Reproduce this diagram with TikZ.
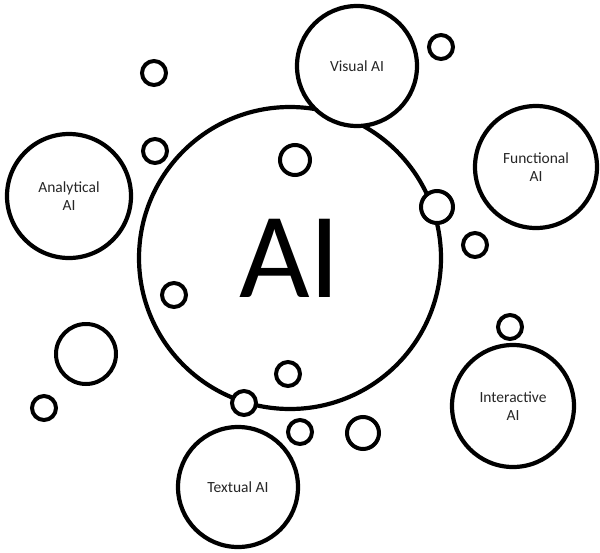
\documentclass[tikz,border=0pt]{standalone}
\usepackage{fontspec}
\setmainfont{Carlito}
\begin{document}
\begin{tikzpicture}[x=1pt,y=-1pt,
  bubble/.style={circle,draw=black,fill=white,line width=4.2pt,inner sep=0pt,
    minimum size=#1,align=center,font=\fontsize{15.5}{17.5}\selectfont,text=black!85},
  dot/.style={circle,draw=black,fill=white,line width=4pt,inner sep=0pt,minimum size=#1}]
\useasboundingbox (0,0) rectangle (600,552);
% central circle
\node[bubble=302pt,font=\fontsize{122}{122}\selectfont,text=black] (ai) at (290,258) {AI};
% satellite bubbles
\node[bubble=120pt] (visual) at (357,66) {Visual AI};
\node[bubble=122pt] (functional) at (536,167) {Functional\\AI};
\node[bubble=124pt] (analytical) at (69,196) {Analytical\\AI};
\node[bubble=122pt] (interactive) at (513,406) {Interactive\\AI};
\node[bubble=120pt] (textual) at (238,487) {Textual AI};
% small floating circles
\node[dot=24pt] (d1) at (154,73) {};
\node[dot=24pt] (d2) at (441,47) {};
\node[dot=24pt] (d3) at (155,151) {};
\node[dot=30pt] (d4) at (295,160) {};
\node[dot=32pt] (d5) at (437,207) {};
\node[dot=24pt] (d6) at (475,245) {};
\node[dot=24pt] (d7) at (174,295) {};
\node[dot=60pt] (d8) at (86,354) {};
\node[dot=24pt] (d9) at (510,327) {};
\node[dot=24pt] (d10) at (288,374) {};
\node[dot=24pt] (d11) at (244,403) {};
\node[dot=24pt] (d12) at (44,408) {};
\node[dot=24pt] (d13) at (300,432) {};
\node[dot=32pt] (d14) at (363,433) {};
\end{tikzpicture}
\end{document}
